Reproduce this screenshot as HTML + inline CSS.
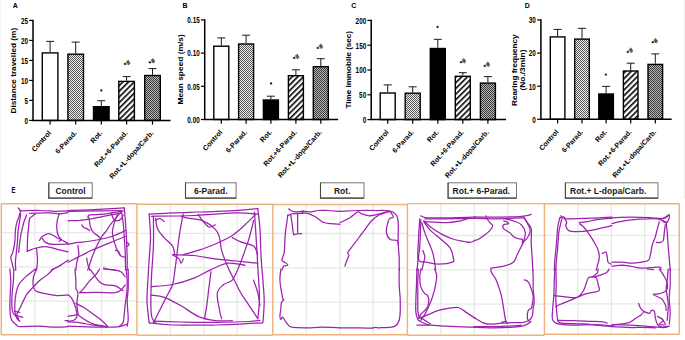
<!DOCTYPE html>
<html><head><meta charset="utf-8"><style>
html,body{margin:0;padding:0;background:#fff;}
svg{display:block;font-family:"Liberation Sans", sans-serif;}
</style></head><body>
<svg width="685" height="340" viewBox="0 0 685 340">
<rect width="685" height="340" fill="#fff"/>
<defs>
<pattern id="dots1" width="2" height="2" patternUnits="userSpaceOnUse"><rect width="2" height="2" fill="#ececec"/><rect width="1" height="1" fill="#5a5a5a"/><rect x="1" y="1" width="1" height="1" fill="#5a5a5a"/></pattern>
<pattern id="dots2" width="2" height="2" patternUnits="userSpaceOnUse"><rect width="2" height="2" fill="#b8b8b8"/><rect width="1" height="1" fill="#383838"/><rect x="1" y="1" width="1" height="1" fill="#383838"/></pattern>
<pattern id="hatch" width="4" height="4" patternUnits="userSpaceOnUse" patternTransform="rotate(45)"><rect width="4" height="4" fill="#fff"/><rect width="1.6" height="4" fill="#000"/></pattern>
</defs>
<text x="12.8" y="7.8" font-size="7" font-weight="bold">A</text>
<rect x="42.3" y="52.9" width="15.6" height="67.5" fill="#ffffff" stroke="#000" stroke-width="1.4"/>
<path d="M50.1 52.2V41.4M46.1 41.4H54.1" stroke="#1a1a1a" stroke-width="1" fill="none"/>
<path d="M50.1 120.4V124.6" stroke="#000" stroke-width="1.2"/>
<text transform="translate(51.5,133.4) rotate(-48)" text-anchor="end" font-size="7.1" font-weight="bold">Control</text>
<rect x="67.9" y="54.2" width="15.6" height="66.2" fill="url(#dots1)" stroke="#000" stroke-width="1.4"/>
<path d="M75.7 53.5V42.1M71.7 42.1H79.7" stroke="#1a1a1a" stroke-width="1" fill="none"/>
<path d="M75.7 120.4V124.6" stroke="#000" stroke-width="1.2"/>
<text transform="translate(77.1,133.4) rotate(-48)" text-anchor="end" font-size="7.1" font-weight="bold">6-Parad.</text>
<rect x="93.5" y="106.7" width="15.6" height="13.7" fill="#000000" stroke="#000" stroke-width="1.4"/>
<path d="M101.3 106V100.7M97.3 100.7H105.3" stroke="#1a1a1a" stroke-width="1" fill="none"/>
<circle cx="101.3" cy="90.5" r="1.15" fill="#222"/>
<path d="M101.3 120.4V124.6" stroke="#000" stroke-width="1.2"/>
<text transform="translate(102.7,133.4) rotate(-48)" text-anchor="end" font-size="7.1" font-weight="bold">Rot.</text>
<rect x="118.8" y="81.4" width="15.6" height="39" fill="url(#hatch)" stroke="#000" stroke-width="1.4"/>
<path d="M126.6 80.7V76.6M122.6 76.6H130.6" stroke="#1a1a1a" stroke-width="1" fill="none"/>
<text transform="translate(127.1,63.3) rotate(-45)" font-size="6.9" font-weight="bold" text-anchor="middle" dominant-baseline="central" stroke="#000" stroke-width="0.05">*#</text>
<path d="M126.6 120.4V124.6" stroke="#000" stroke-width="1.2"/>
<text transform="translate(128,133.4) rotate(-48)" text-anchor="end" font-size="7.1" font-weight="bold">Rot.+6-Parad.</text>
<rect x="144.7" y="75.5" width="15.6" height="44.9" fill="url(#dots2)" stroke="#000" stroke-width="1.4"/>
<path d="M152.5 74.8V68.6M148.5 68.6H156.5" stroke="#1a1a1a" stroke-width="1" fill="none"/>
<text transform="translate(151.9,61.6) rotate(-45)" font-size="6.9" font-weight="bold" text-anchor="middle" dominant-baseline="central" stroke="#000" stroke-width="0.05">*#</text>
<path d="M152.5 120.4V124.6" stroke="#000" stroke-width="1.2"/>
<text transform="translate(153.9,133.4) rotate(-48)" text-anchor="end" font-size="7.1" font-weight="bold">Rot.+L-dopa/Carb.</text>
<path d="M33 19.7V120.4H170.5" stroke="#000" stroke-width="1.5" fill="none"/>
<path d="M29.2 120.4H33" stroke="#000" stroke-width="1.2"/>
<text transform="translate(28,123.7) scale(0.86,1.12)" text-anchor="end" font-size="7.4" font-weight="bold">0</text>
<path d="M29.2 100.4H33" stroke="#000" stroke-width="1.2"/>
<text transform="translate(28,103.7) scale(0.86,1.12)" text-anchor="end" font-size="7.4" font-weight="bold">5</text>
<path d="M29.2 80.4H33" stroke="#000" stroke-width="1.2"/>
<text transform="translate(28,83.7) scale(0.86,1.12)" text-anchor="end" font-size="7.4" font-weight="bold">10</text>
<path d="M29.2 60.4H33" stroke="#000" stroke-width="1.2"/>
<text transform="translate(28,63.7) scale(0.86,1.12)" text-anchor="end" font-size="7.4" font-weight="bold">15</text>
<path d="M29.2 40.4H33" stroke="#000" stroke-width="1.2"/>
<text transform="translate(28,43.7) scale(0.86,1.12)" text-anchor="end" font-size="7.4" font-weight="bold">20</text>
<path d="M29.2 20.4H33" stroke="#000" stroke-width="1.2"/>
<text transform="translate(28,23.7) scale(0.86,1.12)" text-anchor="end" font-size="7.4" font-weight="bold">25</text>
<text transform="translate(13.5,70.65) scale(0.84,1) rotate(-90)" text-anchor="middle" dominant-baseline="central" font-size="8.26" font-weight="bold">Distance travelled (m)</text>
<text x="182.4" y="7.8" font-size="7" font-weight="bold">B</text>
<rect x="213.8" y="46.2" width="15" height="73.3" fill="#ffffff" stroke="#000" stroke-width="1.4"/>
<path d="M221.3 45.5V37.9M217.3 37.9H225.3" stroke="#1a1a1a" stroke-width="1" fill="none"/>
<path d="M221.3 119.5V123.7" stroke="#000" stroke-width="1.2"/>
<text transform="translate(222.7,132.5) rotate(-48)" text-anchor="end" font-size="7.1" font-weight="bold">Control</text>
<rect x="238.6" y="44" width="15" height="75.5" fill="url(#dots1)" stroke="#000" stroke-width="1.4"/>
<path d="M246.1 43.3V35.2M242.1 35.2H250.1" stroke="#1a1a1a" stroke-width="1" fill="none"/>
<path d="M246.1 119.5V123.7" stroke="#000" stroke-width="1.2"/>
<text transform="translate(247.5,132.5) rotate(-48)" text-anchor="end" font-size="7.1" font-weight="bold">6-Parad.</text>
<rect x="263.4" y="100" width="15" height="19.5" fill="#000000" stroke="#000" stroke-width="1.4"/>
<path d="M270.9 99.3V96.2M266.9 96.2H274.9" stroke="#1a1a1a" stroke-width="1" fill="none"/>
<circle cx="271.1" cy="83.5" r="1.15" fill="#222"/>
<path d="M270.9 119.5V123.7" stroke="#000" stroke-width="1.2"/>
<text transform="translate(272.3,132.5) rotate(-48)" text-anchor="end" font-size="7.1" font-weight="bold">Rot.</text>
<rect x="288.4" y="75.7" width="15" height="43.8" fill="url(#hatch)" stroke="#000" stroke-width="1.4"/>
<path d="M295.9 75V69.8M291.9 69.8H299.9" stroke="#1a1a1a" stroke-width="1" fill="none"/>
<text transform="translate(296.1,57.3) rotate(-45)" font-size="6.9" font-weight="bold" text-anchor="middle" dominant-baseline="central" stroke="#000" stroke-width="0.05">*#</text>
<path d="M295.9 119.5V123.7" stroke="#000" stroke-width="1.2"/>
<text transform="translate(297.3,132.5) rotate(-48)" text-anchor="end" font-size="7.1" font-weight="bold">Rot.+6-Parad.</text>
<rect x="313.3" y="66.7" width="15" height="52.8" fill="url(#dots2)" stroke="#000" stroke-width="1.4"/>
<path d="M320.8 66V58.7M316.8 58.7H324.8" stroke="#1a1a1a" stroke-width="1" fill="none"/>
<text transform="translate(319.8,47.2) rotate(-45)" font-size="6.9" font-weight="bold" text-anchor="middle" dominant-baseline="central" stroke="#000" stroke-width="0.05">*#</text>
<path d="M320.8 119.5V123.7" stroke="#000" stroke-width="1.2"/>
<text transform="translate(322.2,132.5) rotate(-48)" text-anchor="end" font-size="7.1" font-weight="bold">Rot.+L-dopa/Carb.</text>
<path d="M204.7 19.2V119.5H338.1" stroke="#000" stroke-width="1.5" fill="none"/>
<path d="M200.9 119.5H204.7" stroke="#000" stroke-width="1.2"/>
<text transform="translate(199.7,122.8) scale(0.86,1.12)" text-anchor="end" font-size="7.4" font-weight="bold">0.00</text>
<path d="M200.9 86.3H204.7" stroke="#000" stroke-width="1.2"/>
<text transform="translate(199.7,89.6) scale(0.86,1.12)" text-anchor="end" font-size="7.4" font-weight="bold">0.05</text>
<path d="M200.9 53.1H204.7" stroke="#000" stroke-width="1.2"/>
<text transform="translate(199.7,56.4) scale(0.86,1.12)" text-anchor="end" font-size="7.4" font-weight="bold">0.10</text>
<path d="M200.9 19.9H204.7" stroke="#000" stroke-width="1.2"/>
<text transform="translate(199.7,23.2) scale(0.86,1.12)" text-anchor="end" font-size="7.4" font-weight="bold">0.15</text>
<text transform="translate(181.1,69.4) scale(0.84,1) rotate(-90)" text-anchor="middle" dominant-baseline="central" font-size="8.4" font-weight="bold">Mean speed (m/s)</text>
<text x="351.3" y="7.8" font-size="7" font-weight="bold">C</text>
<rect x="380.2" y="93" width="15" height="26.6" fill="#ffffff" stroke="#000" stroke-width="1.4"/>
<path d="M387.7 92.3V84.9M383.7 84.9H391.7" stroke="#1a1a1a" stroke-width="1" fill="none"/>
<path d="M387.7 119.6V123.8" stroke="#000" stroke-width="1.2"/>
<text transform="translate(389.1,132.6) rotate(-48)" text-anchor="end" font-size="7.1" font-weight="bold">Control</text>
<rect x="405.2" y="93.2" width="15" height="26.4" fill="url(#dots1)" stroke="#000" stroke-width="1.4"/>
<path d="M412.7 92.5V86.8M408.7 86.8H416.7" stroke="#1a1a1a" stroke-width="1" fill="none"/>
<path d="M412.7 119.6V123.8" stroke="#000" stroke-width="1.2"/>
<text transform="translate(414.1,132.6) rotate(-48)" text-anchor="end" font-size="7.1" font-weight="bold">6-Parad.</text>
<rect x="430.3" y="48.5" width="15" height="71.1" fill="#000000" stroke="#000" stroke-width="1.4"/>
<path d="M437.8 47.8V39.3M433.8 39.3H441.8" stroke="#1a1a1a" stroke-width="1" fill="none"/>
<circle cx="437.6" cy="27.0" r="1.15" fill="#222"/>
<path d="M437.8 119.6V123.8" stroke="#000" stroke-width="1.2"/>
<text transform="translate(439.2,132.6) rotate(-48)" text-anchor="end" font-size="7.1" font-weight="bold">Rot.</text>
<rect x="455.3" y="76.3" width="15" height="43.3" fill="url(#hatch)" stroke="#000" stroke-width="1.4"/>
<path d="M462.8 75.6V72.7M458.8 72.7H466.8" stroke="#1a1a1a" stroke-width="1" fill="none"/>
<text transform="translate(463.0,61.5) rotate(-45)" font-size="6.9" font-weight="bold" text-anchor="middle" dominant-baseline="central" stroke="#000" stroke-width="0.05">*#</text>
<path d="M462.8 119.6V123.8" stroke="#000" stroke-width="1.2"/>
<text transform="translate(464.2,132.6) rotate(-48)" text-anchor="end" font-size="7.1" font-weight="bold">Rot.+6-Parad.</text>
<rect x="480.4" y="83.1" width="15" height="36.5" fill="url(#dots2)" stroke="#000" stroke-width="1.4"/>
<path d="M487.9 82.4V76.6M483.9 76.6H491.9" stroke="#1a1a1a" stroke-width="1" fill="none"/>
<text transform="translate(486.9,65.2) rotate(-45)" font-size="6.9" font-weight="bold" text-anchor="middle" dominant-baseline="central" stroke="#000" stroke-width="0.05">*#</text>
<path d="M487.9 119.6V123.8" stroke="#000" stroke-width="1.2"/>
<text transform="translate(489.3,132.6) rotate(-48)" text-anchor="end" font-size="7.1" font-weight="bold">Rot.+L-dopa/Carb.</text>
<path d="M371.2 19.7V119.6H506" stroke="#000" stroke-width="1.5" fill="none"/>
<path d="M367.4 119.6H371.2" stroke="#000" stroke-width="1.2"/>
<text transform="translate(366.2,122.9) scale(0.86,1.12)" text-anchor="end" font-size="7.4" font-weight="bold">0</text>
<path d="M367.4 94.8H371.2" stroke="#000" stroke-width="1.2"/>
<text transform="translate(366.2,98.1) scale(0.86,1.12)" text-anchor="end" font-size="7.4" font-weight="bold">50</text>
<path d="M367.4 70H371.2" stroke="#000" stroke-width="1.2"/>
<text transform="translate(366.2,73.3) scale(0.86,1.12)" text-anchor="end" font-size="7.4" font-weight="bold">100</text>
<path d="M367.4 45.2H371.2" stroke="#000" stroke-width="1.2"/>
<text transform="translate(366.2,48.5) scale(0.86,1.12)" text-anchor="end" font-size="7.4" font-weight="bold">150</text>
<path d="M367.4 20.4H371.2" stroke="#000" stroke-width="1.2"/>
<text transform="translate(366.2,23.7) scale(0.86,1.12)" text-anchor="end" font-size="7.4" font-weight="bold">200</text>
<text transform="translate(348.5,69.8) scale(0.84,1) rotate(-90)" text-anchor="middle" dominant-baseline="central" font-size="8.1" font-weight="bold">Time immobile (sec)</text>
<text x="524.7" y="7.8" font-size="7" font-weight="bold">D</text>
<rect x="550.3" y="36.9" width="14.6" height="82.4" fill="#ffffff" stroke="#000" stroke-width="1.4"/>
<path d="M557.6 36.2V29.4M553.6 29.4H561.6" stroke="#1a1a1a" stroke-width="1" fill="none"/>
<path d="M557.6 119.3V123.5" stroke="#000" stroke-width="1.2"/>
<text transform="translate(559,132.3) rotate(-48)" text-anchor="end" font-size="7.1" font-weight="bold">Control</text>
<rect x="574.7" y="39.1" width="14.6" height="80.2" fill="url(#dots1)" stroke="#000" stroke-width="1.4"/>
<path d="M582 38.4V28.3M578 28.3H586" stroke="#1a1a1a" stroke-width="1" fill="none"/>
<path d="M582 119.3V123.5" stroke="#000" stroke-width="1.2"/>
<text transform="translate(583.4,132.3) rotate(-48)" text-anchor="end" font-size="7.1" font-weight="bold">6-Parad.</text>
<rect x="598.8" y="94" width="14.6" height="25.3" fill="#000000" stroke="#000" stroke-width="1.4"/>
<path d="M606.1 93.3V86.4M602.1 86.4H610.1" stroke="#1a1a1a" stroke-width="1" fill="none"/>
<circle cx="605.9" cy="74.7" r="1.15" fill="#222"/>
<path d="M606.1 119.3V123.5" stroke="#000" stroke-width="1.2"/>
<text transform="translate(607.5,132.3) rotate(-48)" text-anchor="end" font-size="7.1" font-weight="bold">Rot.</text>
<rect x="623.4" y="71" width="14.6" height="48.3" fill="url(#hatch)" stroke="#000" stroke-width="1.4"/>
<path d="M630.7 70.3V63.2M626.7 63.2H634.7" stroke="#1a1a1a" stroke-width="1" fill="none"/>
<text transform="translate(629.9,51.2) rotate(-45)" font-size="6.9" font-weight="bold" text-anchor="middle" dominant-baseline="central" stroke="#000" stroke-width="0.05">*#</text>
<path d="M630.7 119.3V123.5" stroke="#000" stroke-width="1.2"/>
<text transform="translate(632.1,132.3) rotate(-48)" text-anchor="end" font-size="7.1" font-weight="bold">Rot.+6-Parad.</text>
<rect x="648" y="64.4" width="14.6" height="54.9" fill="url(#dots2)" stroke="#000" stroke-width="1.4"/>
<path d="M655.3 63.7V53.9M651.3 53.9H659.3" stroke="#1a1a1a" stroke-width="1" fill="none"/>
<text transform="translate(654.7,41.5) rotate(-45)" font-size="6.9" font-weight="bold" text-anchor="middle" dominant-baseline="central" stroke="#000" stroke-width="0.05">*#</text>
<path d="M655.3 119.3V123.5" stroke="#000" stroke-width="1.2"/>
<text transform="translate(656.7,132.3) rotate(-48)" text-anchor="end" font-size="7.1" font-weight="bold">Rot.+L-dopa/Carb.</text>
<path d="M540.9 19.25V119.3H671.7" stroke="#000" stroke-width="1.5" fill="none"/>
<path d="M537.1 119.3H540.9" stroke="#000" stroke-width="1.2"/>
<text transform="translate(535.9,122.6) scale(0.86,1.12)" text-anchor="end" font-size="7.4" font-weight="bold">0</text>
<path d="M537.1 86.2H540.9" stroke="#000" stroke-width="1.2"/>
<text transform="translate(535.9,89.5) scale(0.86,1.12)" text-anchor="end" font-size="7.4" font-weight="bold">10</text>
<path d="M537.1 53.1H540.9" stroke="#000" stroke-width="1.2"/>
<text transform="translate(535.9,56.4) scale(0.86,1.12)" text-anchor="end" font-size="7.4" font-weight="bold">20</text>
<path d="M537.1 19.95H540.9" stroke="#000" stroke-width="1.2"/>
<text transform="translate(535.9,23.25) scale(0.86,1.12)" text-anchor="end" font-size="7.4" font-weight="bold">30</text>
<text transform="translate(514.6,70.2) scale(0.84,1) rotate(-90)" text-anchor="middle" dominant-baseline="central" font-size="8.15" font-weight="bold">Rearing frequency</text>
<text transform="translate(523.2,70.05) scale(0.84,1) rotate(-90)" text-anchor="middle" dominant-baseline="central" font-size="8.4" font-weight="bold">(No./3min)</text>
<path d="M684.3 0V199" stroke="#ececec" stroke-width="1"/><path d="M0.5 0V199" stroke="#f5f5f5" stroke-width="1"/>
<text transform="translate(11.6,193.2) scale(0.7,1)" font-size="8.2" font-weight="bold">E</text>
<rect x="48.8" y="182.8" width="43.4" height="15.3" fill="#fff" stroke="#747474" stroke-width="1"/>
<path d="M48.8 182.8V198.1H92.2" stroke="#474747" stroke-width="1.1" fill="none"/>
<text x="70.5" y="193.6" text-anchor="middle" font-size="8.5" font-weight="bold" fill="#1a1a1a">Control</text>
<rect x="185.5" y="182.8" width="50.6" height="15.3" fill="#fff" stroke="#747474" stroke-width="1"/>
<path d="M185.5 182.8V198.1H236.1" stroke="#474747" stroke-width="1.1" fill="none"/>
<text x="210.8" y="193.6" text-anchor="middle" font-size="8.5" font-weight="bold" fill="#1a1a1a">6-Parad.</text>
<rect x="320.5" y="182.8" width="43.5" height="15.3" fill="#fff" stroke="#747474" stroke-width="1"/>
<path d="M320.5 182.8V198.1H364" stroke="#474747" stroke-width="1.1" fill="none"/>
<text x="342.25" y="193.6" text-anchor="middle" font-size="8.5" font-weight="bold" fill="#1a1a1a">Rot.</text>
<rect x="448.1" y="182.8" width="68.4" height="15.3" fill="#fff" stroke="#747474" stroke-width="1"/>
<path d="M448.1 182.8V198.1H516.5" stroke="#474747" stroke-width="1.1" fill="none"/>
<text x="452.6" y="193.6" font-size="8.5" font-weight="bold" fill="#1a1a1a">Rot.+ 6-Parad.</text>
<rect x="565.4" y="182.8" width="92.6" height="15.3" fill="#fff" stroke="#747474" stroke-width="1"/>
<path d="M565.4 182.8V198.1H658" stroke="#474747" stroke-width="1.1" fill="none"/>
<text x="570" y="193.6" font-size="8.5" font-weight="bold" fill="#1a1a1a">Rot.+ L-dopa/Carb.</text>
<path d="M34.8 203.9V334.5M68.3 203.9V334.5M101.6 203.9V334.5M1.3 232.6H136.9M1.3 266.9H136.9M1.3 301.2H136.9" stroke="#e8e8ec" stroke-width="1.3" fill="none"/>
<path d="M170.4 203.9V334.5M203.9 203.9V334.5M237.2 203.9V334.5M136.9 233.4H272.8M136.9 267.7H272.8M136.9 302H272.8" stroke="#e8e8ec" stroke-width="1.3" fill="none"/>
<path d="M306.3 203.9V334.5M339.8 203.9V334.5M373.1 203.9V334.5M272.8 233.5H407.3M272.8 267.8H407.3M272.8 302.1H407.3" stroke="#e8e8ec" stroke-width="1.3" fill="none"/>
<path d="M440.8 203.9V334.5M474.3 203.9V334.5M507.6 203.9V334.5M407.3 235.5H544.4M407.3 269.8H544.4M407.3 304.1H544.4" stroke="#e8e8ec" stroke-width="1.3" fill="none"/>
<path d="M577.9 203.9V334.5M611.4 203.9V334.5M644.7 203.9V334.5M544.4 235.3H679.3M544.4 269.6H679.3M544.4 303.9H679.3" stroke="#e8e8ec" stroke-width="1.3" fill="none"/>
<path d="M1.3 203.8H136.9M1.3 334.7H136.9M136.9 204.3H272.8M136.9 335.3H272.8M272.8 204.5H407.4M272.8 334.7H407.4M407.4 203.6H544.4M407.4 335.3H544.4M544.4 203.8H679.3M544.4 334.2H679.3M1.3 203.8V334.7M136.9 203.8V335.3M272.8 204.3V335.3M407.4 203.6V335.3M544.4 203.6V335.3M679.3 203.8V334.2" stroke="#eeb27a" stroke-width="1.45" fill="none"/>
<g fill="none" stroke="#9c22ae" stroke-width="1.25" stroke-linejoin="round" stroke-linecap="round">
<path d="M18.1 207.9C18.6 208.4 20.4 209.9 20.7 210.9C21.0 211.9 20.1 212.7 19.7 213.8C19.4 215.0 19.2 216.3 18.7 217.8C18.2 219.3 17.3 220.6 16.8 222.7C16.2 224.9 15.7 227.3 15.4 230.6C15.1 233.9 15.2 238.8 14.8 242.4C14.4 246.1 13.5 249.8 12.8 252.3C12.2 254.8 11.0 255.6 10.8 257.2C10.7 258.9 11.3 260.0 11.8 262.2C12.3 264.3 13.5 268.7 13.8 270.1"/>
<path d="M19.7 210.9C23.0 210.8 33.5 210.4 39.4 210.5C45.4 210.6 50.5 211.2 55.2 211.3C60.0 211.3 65.9 211.0 68.0 210.9"/>
<path d="M29.6 213.3C32.9 213.2 44.4 212.8 49.3 212.9C54.2 213.0 56.0 213.9 59.2 213.8C62.3 213.8 66.6 212.7 68.0 212.5"/>
<path d="M20.7 213.8C20.5 215.0 20.2 218.0 19.7 220.8C19.3 223.5 18.5 227.0 18.1 230.6C17.8 234.2 17.7 238.5 17.4 242.4C17.0 246.4 16.5 251.0 16.2 254.3C15.8 257.6 15.5 259.5 15.4 262.2C15.3 264.8 15.7 268.7 15.8 270.1"/>
<path d="M26.6 214.8C26.1 216.1 24.6 219.8 23.7 222.7C22.8 225.7 22.0 229.3 21.3 232.6C20.6 235.9 20.2 239.2 19.7 242.4C19.3 245.7 18.9 250.7 18.7 252.3"/>
<path d="M35.5 213.8C34.8 214.3 32.5 216.0 31.6 216.8C30.6 217.6 30.1 217.1 29.6 218.8C29.1 220.4 28.9 223.4 28.6 226.7C28.3 230.0 27.8 234.4 27.6 238.5C27.4 242.6 27.3 249.2 27.2 251.3"/>
<path d="M27.2 251.3C28.8 250.8 33.1 248.7 36.5 248.0C39.8 247.2 43.6 246.5 47.3 246.8C51.1 247.1 55.7 249.1 59.2 249.9C62.6 250.8 66.6 251.6 68.0 251.9"/>
<path d="M36.5 248.0C36.7 250.0 37.5 256.5 37.5 260.2C37.5 263.9 36.7 268.4 36.5 270.1"/>
<path d="M39.4 240.5C39.9 239.8 40.9 237.7 42.4 236.5C43.9 235.4 46.5 233.7 48.3 233.6C50.1 233.4 51.6 234.7 53.3 235.5C54.9 236.4 56.9 237.8 58.2 238.5C59.5 239.2 59.5 238.7 61.1 239.5C62.8 240.3 66.9 242.8 68.0 243.4"/>
<path d="M42.4 238.5C42.9 239.2 43.7 241.5 45.4 242.4C47.0 243.4 48.5 244.2 52.3 244.4C56.0 244.7 65.4 244.1 68.0 244.0"/>
<path d="M59.2 213.8C58.8 215.0 57.6 218.3 57.2 220.8C56.8 223.2 56.6 226.2 56.8 228.6C57.0 231.1 57.5 233.7 58.2 235.5C58.9 237.4 61.0 238.5 61.1 239.5C61.3 240.5 59.5 241.1 59.2 241.5"/>
<path d="M68.0 260.2C66.6 261.2 62.0 264.5 59.2 266.1C56.4 267.8 52.6 269.4 51.3 270.1"/>
<path d="M68.0 210.5C71.3 210.4 81.1 210.2 87.7 209.9C94.3 209.6 101.4 209.2 107.4 208.9C113.5 208.6 121.4 208.1 124.2 207.9"/>
<path d="M68.0 211.3C72.9 211.2 88.7 211.0 97.6 210.9C106.5 210.8 117.3 210.6 121.3 210.5"/>
<path d="M87.7 217.2C88.1 216.8 87.7 215.3 89.7 214.8C91.7 214.4 95.9 214.8 99.6 214.4C103.2 214.1 108.4 213.3 111.4 212.9C114.4 212.4 115.3 212.2 117.3 211.9C119.3 211.5 122.2 211.1 123.2 210.9"/>
<path d="M68.0 220.8C70.0 220.7 75.9 220.7 79.8 220.4C83.8 220.0 87.7 219.4 91.7 218.8C95.6 218.1 99.9 217.1 103.5 216.4C107.1 215.7 110.4 215.0 113.4 214.4C116.3 213.8 119.9 213.1 121.3 212.9"/>
<path d="M88.7 216.8C88.9 217.8 89.4 220.9 89.7 222.7C90.0 224.5 90.0 226.0 90.7 227.7C91.3 229.3 92.5 231.3 93.6 232.6C94.8 233.9 96.4 234.6 97.6 235.5C98.7 236.5 100.1 238.0 100.5 238.5"/>
<path d="M81.8 224.7C82.1 225.2 83.0 227.0 83.8 227.7C84.6 228.3 85.8 228.1 86.7 228.6C87.7 229.1 89.2 230.3 89.7 230.6"/>
<path d="M121.3 211.9C120.3 213.0 117.1 216.6 115.3 218.8C113.5 220.9 111.9 222.7 110.4 224.7C108.9 226.7 107.8 228.8 106.5 230.6C105.1 232.4 103.7 233.9 102.5 235.5C101.4 237.2 100.7 238.3 99.6 240.5C98.4 242.6 96.9 245.4 95.6 248.4C94.3 251.3 93.0 254.6 91.7 258.2C90.4 261.8 88.4 268.1 87.7 270.1"/>
<path d="M117.3 214.8C116.8 216.1 115.2 219.8 114.4 222.7C113.5 225.7 112.4 229.3 112.4 232.6C112.4 235.9 113.4 239.2 114.4 242.4C115.3 245.7 117.1 250.0 118.3 252.3C119.4 254.6 120.1 255.4 121.3 256.3C122.4 257.1 124.5 257.1 125.2 257.2"/>
<path d="M68.0 244.4C69.6 244.1 74.6 242.9 77.9 242.4C81.1 242.0 84.1 242.0 87.7 241.5C91.3 241.0 95.6 240.3 99.6 239.5C103.5 238.7 107.8 237.7 111.4 236.5C115.0 235.4 119.0 233.6 121.3 232.6C123.6 231.6 124.5 230.9 125.2 230.6"/>
<path d="M68.0 262.2C69.0 261.7 71.6 260.4 73.9 259.2C76.2 258.1 78.8 256.7 81.8 255.3C84.8 253.8 88.1 252.0 91.7 250.3C95.3 248.7 99.6 247.0 103.5 245.4C107.4 243.8 111.7 242.0 115.3 240.5C119.0 239.0 123.6 237.2 125.2 236.5"/>
<path d="M77.9 245.4C78.0 246.9 79.0 251.5 78.8 254.3C78.7 257.1 77.4 259.5 76.9 262.2C76.4 264.8 76.1 268.7 75.9 270.1"/>
<path d="M124.2 207.9C124.4 209.7 124.9 214.7 125.2 218.8C125.5 222.9 125.9 228.0 126.2 232.6C126.4 237.2 126.6 242.1 126.8 246.4C126.9 250.7 127.1 254.3 127.2 258.2C127.2 262.2 127.2 268.1 127.2 270.1"/>
<path d="M121.3 210.9C121.6 212.9 122.7 218.5 123.2 222.7C123.7 227.0 123.9 231.6 124.2 236.5C124.5 241.5 125.0 246.7 125.2 252.3C125.4 257.9 125.5 267.1 125.6 270.1"/>
<path d="M111.4 212.9C111.7 213.8 112.4 217.5 113.4 218.8C114.4 220.1 116.0 220.8 117.3 220.8C118.6 220.8 120.3 219.8 121.3 218.8C122.2 217.8 122.9 215.5 123.2 214.8"/>
<path d="M115.3 250.3C115.8 250.5 117.5 250.5 118.3 251.3C119.1 252.1 119.9 254.6 120.3 255.3"/>
<path d="M86.7 258.2C86.9 259.2 87.2 262.2 87.7 264.1C88.2 266.1 89.4 269.1 89.7 270.1"/>
<path d="M103.5 268.1C104.2 268.3 105.5 268.7 107.4 269.1C109.4 269.4 114.0 269.9 115.3 270.1"/>
<path d="M127.2 242.4C127.5 242.8 129.1 243.8 129.1 244.4C129.1 245.1 127.5 246.1 127.2 246.4"/>
<path d="M9.9 269.0C10.0 271.0 10.8 276.9 10.8 280.8C10.9 284.8 10.4 289.1 10.3 292.7C10.1 296.3 9.9 298.9 9.9 302.5C9.9 306.1 9.9 311.4 10.3 314.4C10.6 317.3 10.7 318.5 11.8 320.3C12.9 322.1 15.5 324.2 16.8 325.2C18.1 326.3 15.9 326.4 19.7 326.6C23.5 326.8 33.5 326.1 39.4 326.2C45.4 326.3 50.5 327.1 55.2 327.2C60.0 327.3 65.9 326.7 68.0 326.6"/>
<path d="M13.8 269.0C13.7 271.0 13.7 276.9 13.4 280.8C13.1 284.8 12.5 288.7 12.2 292.7C12.0 296.6 11.7 301.2 11.8 304.5C11.9 307.8 12.2 310.4 12.8 312.4C13.5 314.4 14.8 315.0 15.8 316.3C16.8 317.7 18.2 319.6 18.7 320.3"/>
<path d="M35.5 269.0C33.9 270.3 28.4 274.3 25.6 276.9C22.8 279.5 20.4 281.8 18.7 284.8C17.1 287.7 16.4 291.4 15.8 294.6C15.1 297.9 14.9 301.2 14.8 304.5C14.7 307.8 14.7 312.1 15.4 314.4C16.0 316.7 18.2 317.7 18.7 318.3"/>
<path d="M53.3 269.0C52.3 270.0 49.6 272.9 47.3 274.9C45.0 276.9 41.7 278.9 39.4 280.8C37.1 282.8 35.7 284.5 33.5 286.8C31.4 289.1 28.8 291.4 26.6 294.6C24.5 297.9 22.4 303.2 20.7 306.5C19.1 309.8 17.4 313.0 16.8 314.4"/>
<path d="M36.5 269.0C36.0 270.3 34.1 274.3 33.5 276.9C33.0 279.5 32.8 282.5 33.1 284.8C33.5 287.1 33.5 289.2 35.5 290.7C37.5 292.2 41.7 292.8 45.4 293.7C49.0 294.5 53.4 295.4 57.2 295.6C61.0 295.9 66.2 295.1 68.0 295.0"/>
<path d="M14.8 311.4L19.7 312.4"/>
<path d="M15.8 315.4L22.7 317.3"/>
<path d="M16.8 318.3L19.7 321.3"/>
<path d="M65.1 320.7L68.0 320.7"/>
<path d="M126.2 269.0C126.3 271.0 127.1 276.9 127.2 280.8C127.3 284.8 127.1 288.7 126.8 292.7C126.4 296.6 125.6 300.9 125.2 304.5C124.8 308.1 124.5 311.4 124.2 314.4C123.9 317.3 124.0 320.2 123.2 322.3C122.4 324.3 119.9 325.9 119.3 326.6"/>
<path d="M128.2 269.0C128.2 272.3 128.3 283.5 128.2 288.7C128.0 294.0 127.2 295.6 127.2 300.6C127.2 305.5 128.2 314.0 128.2 318.3C128.2 322.6 127.3 324.9 127.2 326.2"/>
<path d="M68.0 326.2C71.3 326.3 81.1 326.6 87.7 326.8C94.3 327.0 102.2 327.2 107.4 327.2C112.7 327.2 116.0 327.1 119.3 326.6C122.6 326.1 125.9 324.6 127.2 324.2"/>
<path d="M68.0 294.6C68.7 295.3 70.6 296.3 71.9 298.6C73.3 300.9 75.1 305.5 75.9 308.4C76.7 311.4 77.2 314.4 76.9 316.3C76.5 318.3 75.4 319.5 73.9 320.3C72.4 321.1 69.0 321.1 68.0 321.3"/>
<path d="M74.9 269.0C75.1 271.0 75.7 277.5 75.9 280.8C76.1 284.1 75.6 286.8 75.9 288.7C76.2 290.7 77.7 290.2 77.9 292.7C78.0 295.1 76.9 300.2 76.9 303.5C76.9 306.8 77.4 310.3 77.9 312.4C78.4 314.5 77.2 314.4 79.8 316.3C82.5 318.3 89.0 322.5 93.6 324.2C98.2 325.9 105.1 326.2 107.4 326.6"/>
<path d="M79.8 292.7C82.8 292.6 91.7 292.3 97.6 292.3C103.5 292.3 111.4 293.1 115.3 292.7C119.3 292.2 119.6 291.0 121.3 289.7C122.9 288.4 124.5 285.6 125.2 284.8"/>
<path d="M89.7 269.0C90.2 269.7 91.7 271.6 92.7 272.9C93.6 274.3 94.3 275.2 95.6 276.9C96.9 278.5 98.9 281.5 100.5 282.8C102.2 284.1 103.0 284.3 105.5 284.8C107.9 285.3 112.4 284.8 115.3 285.8C118.3 286.8 121.9 289.9 123.2 290.7"/>
<path d="M99.6 269.0C98.9 270.0 97.3 272.9 95.6 274.9C94.0 276.9 91.3 279.0 89.7 280.8C88.1 282.6 87.1 284.1 85.8 285.8C84.4 287.4 82.8 289.5 81.8 290.7C80.8 291.8 80.2 292.3 79.8 292.7"/>
<path d="M103.5 269.0C105.1 269.2 110.4 269.5 113.4 270.0C116.3 270.5 119.3 270.8 121.3 272.0C123.2 273.1 124.5 276.1 125.2 276.9"/>
<path d="M68.0 316.3C69.0 316.2 72.3 315.7 73.9 315.4C75.6 315.0 77.2 314.5 77.9 314.4"/>
<path d="M75.9 303.5C77.2 304.2 80.8 305.7 83.8 307.5C86.7 309.3 90.7 312.2 93.6 314.4C96.6 316.5 99.2 318.3 101.5 320.3C103.8 322.3 106.5 325.2 107.4 326.2"/>
<path d="M68.0 321.9C69.6 321.9 73.6 321.7 77.9 322.3C82.1 322.8 88.7 324.5 93.6 325.2C98.6 325.9 105.1 326.4 107.4 326.6"/>
</g>
<g fill="none" stroke="#9c22ae" stroke-width="1.25" stroke-linejoin="round" stroke-linecap="round">
<path d="M149.2 214.2C153.1 214.0 164.4 213.3 172.6 212.9C180.8 212.5 189.7 212.3 198.2 212.0C206.7 211.8 215.9 211.5 223.7 211.2C231.5 210.8 239.4 210.3 245.0 209.9C250.7 209.5 255.7 208.8 257.8 208.6"/>
<path d="M151.3 216.3C158.4 216.2 179.7 216.0 193.9 215.5C208.1 214.9 225.9 213.1 236.5 212.9C247.2 212.7 254.3 214.0 257.8 214.2"/>
<path d="M149.2 214.2C149.4 218.1 150.5 230.2 150.5 237.6C150.5 245.1 149.6 251.8 149.2 258.9C148.7 266.0 148.3 273.1 147.9 280.2C147.5 287.3 146.8 294.4 147.0 301.5C147.3 308.6 148.8 319.3 149.2 322.8"/>
<path d="M153.4 216.3C153.4 221.3 153.8 235.5 153.4 246.1C153.1 256.8 151.7 268.9 151.3 280.2C150.9 291.6 150.6 307.2 151.3 314.3C152.0 321.4 154.9 321.4 155.6 322.8"/>
<path d="M149.2 322.8C153.1 323.2 161.6 324.6 172.6 325.0C183.6 325.3 203.9 325.1 215.2 325.0C226.6 324.8 233.0 324.5 240.8 324.1C248.6 323.7 258.5 323.0 262.1 322.8"/>
<path d="M153.4 321.1C158.0 321.3 170.8 321.8 181.1 322.0C191.4 322.2 203.9 322.5 215.2 322.4C226.6 322.3 241.8 321.9 249.3 321.5C256.8 321.2 258.2 320.5 260.0 320.3"/>
<path d="M257.8 208.6C258.2 212.0 259.4 220.7 260.0 229.1C260.5 237.5 260.7 250.4 261.2 258.9C261.7 267.4 262.4 273.1 262.9 280.2C263.4 287.3 264.2 294.4 264.2 301.5C264.2 308.6 263.1 319.3 262.9 322.8"/>
<path d="M254.4 212.0C254.7 216.3 255.6 228.4 256.1 237.6C256.7 246.8 257.3 257.5 257.8 267.4C258.4 277.4 259.5 288.7 259.5 297.3C259.5 305.8 258.1 315.0 257.8 318.6"/>
<path d="M155.6 218.4C155.9 220.2 156.3 225.9 157.7 229.1C159.1 232.3 161.6 234.8 164.1 237.6C166.6 240.4 170.8 243.3 172.6 246.1C174.4 249.0 174.4 253.2 174.7 254.7"/>
<path d="M172.6 254.7C176.2 254.8 186.8 254.8 193.9 255.5C201.0 256.2 208.1 258.0 215.2 258.9C222.3 259.8 229.4 260.3 236.5 261.0C243.6 261.8 254.3 262.8 257.8 263.2"/>
<path d="M183.3 214.2C182.9 215.9 181.8 220.9 181.1 224.8C180.4 228.7 179.7 232.6 179.0 237.6C178.3 242.6 177.6 249.0 176.9 254.7C176.2 260.3 175.4 266.7 174.7 271.7C174.0 276.7 174.0 280.2 172.6 284.5C171.2 288.7 168.3 293.0 166.2 297.3C164.1 301.5 162.0 305.8 159.8 310.0C157.7 314.3 154.5 320.7 153.4 322.8"/>
<path d="M181.1 216.3C182.5 216.7 186.1 217.7 189.7 218.4C193.2 219.1 198.2 218.8 202.4 220.6C206.7 222.3 212.4 226.2 215.2 229.1C218.1 231.9 218.4 234.1 219.5 237.6C220.5 241.2 220.2 245.4 221.6 250.4C223.0 255.4 225.9 262.5 228.0 267.4C230.1 272.4 232.3 276.0 234.4 280.2C236.5 284.5 238.3 288.7 240.8 293.0C243.3 297.3 246.5 301.5 249.3 305.8C252.1 310.0 256.4 316.4 257.8 318.6"/>
<path d="M255.7 214.2C253.9 215.9 248.9 221.3 245.0 224.8C241.1 228.4 237.2 232.3 232.3 235.5C227.3 238.7 220.9 241.5 215.2 244.0C209.5 246.5 203.5 248.6 198.2 250.4C192.8 252.2 185.7 253.9 183.3 254.7"/>
<path d="M253.6 220.6C252.9 223.4 250.7 232.6 249.3 237.6C247.9 242.6 246.8 245.4 245.0 250.4C243.3 255.4 240.8 262.5 238.6 267.4C236.5 272.4 234.7 277.4 232.3 280.2C229.8 283.1 226.2 282.3 223.7 284.5C221.3 286.6 218.1 288.7 217.3 293.0C216.6 297.3 218.8 305.8 219.5 310.0C220.2 314.3 221.3 317.1 221.6 318.6"/>
<path d="M151.3 286.6C154.9 286.3 165.5 285.9 172.6 284.5C179.7 283.1 187.5 280.6 193.9 278.1C200.3 275.6 205.3 272.0 211.0 269.6C216.6 267.1 222.3 263.9 228.0 263.2C233.7 262.5 242.2 264.9 245.0 265.3"/>
<path d="M151.3 295.1C153.4 295.5 159.1 295.5 164.1 297.3C169.1 299.0 175.4 302.6 181.1 305.8C186.8 309.0 192.5 313.9 198.2 316.4C203.9 318.9 209.5 320.0 215.2 320.7C220.9 321.4 229.4 320.7 232.3 320.7"/>
<path d="M211.0 271.7C210.6 274.5 209.5 283.1 208.8 288.7C208.1 294.4 207.4 300.8 206.7 305.8C206.0 310.8 204.9 316.4 204.6 318.6"/>
<path d="M253.6 280.2C254.3 282.3 256.8 288.7 257.8 293.0C258.9 297.3 259.6 303.6 260.0 305.8"/>
<path d="M232.3 237.6C233.7 238.3 237.2 240.4 240.8 241.9C244.3 243.3 250.7 244.0 253.6 246.1C256.4 248.3 257.1 253.2 257.8 254.7"/>
<path d="M198.2 214.2C198.9 215.2 200.7 218.4 202.4 220.6C204.2 222.7 206.7 226.2 208.8 227.0C211.0 227.7 214.1 225.2 215.2 224.8"/>
<path d="M172.6 254.7C173.7 255.4 177.6 257.5 179.0 258.9C180.4 260.3 180.4 263.2 181.1 263.2C181.8 263.2 182.9 259.6 183.3 258.9"/>
<path d="M155.6 220.6C156.3 220.2 158.4 218.3 159.8 218.4C161.2 218.6 163.4 220.9 164.1 221.4"/>
</g>
<g fill="none" stroke="#9c22ae" stroke-width="1.25" stroke-linejoin="round" stroke-linecap="round">
<path d="M288.8 208.9C289.3 209.2 290.6 210.4 291.7 210.9C292.9 211.4 293.7 211.8 295.7 211.9C297.6 211.9 300.9 211.3 303.6 211.3C306.2 211.3 309.0 212.0 311.4 211.9C313.9 211.7 315.7 210.7 318.4 210.5C321.0 210.3 323.6 210.4 327.2 210.5C330.8 210.6 337.9 211.2 340.0 211.3"/>
<path d="M287.8 215.8C288.4 215.5 289.4 214.3 291.7 213.8C294.0 213.4 299.0 213.4 301.6 213.3C304.2 213.2 305.2 212.7 307.5 213.3C309.8 213.8 312.8 215.3 315.4 216.8C318.0 218.3 320.7 221.2 323.3 222.3C325.9 223.5 328.4 223.4 331.2 223.7C334.0 224.0 338.6 224.2 340.0 224.3"/>
<path d="M287.8 214.8C287.6 216.1 287.2 219.8 286.8 222.7C286.4 225.7 285.7 229.3 285.4 232.6C285.1 235.9 285.0 239.2 284.8 242.4C284.6 245.7 284.7 249.4 284.2 252.3C283.7 255.3 281.8 258.6 281.9 260.2C282.0 261.8 283.8 261.3 284.8 262.2C285.8 263.0 287.9 264.5 287.8 265.1C287.6 265.8 284.8 265.3 283.8 266.1C282.8 266.9 282.2 269.4 281.9 270.1"/>
<path d="M290.7 214.8C290.9 215.8 291.4 218.5 291.7 220.8C292.1 223.1 292.4 226.3 292.7 228.6C293.0 230.9 293.2 233.6 293.7 234.6C294.2 235.5 294.4 234.3 295.7 234.2C297.0 234.0 300.6 233.7 301.6 233.6"/>
<path d="M297.6 213.8C297.6 215.3 297.6 219.6 297.6 222.7C297.6 225.8 297.6 230.9 297.6 232.6"/>
<path d="M301.6 210.9C301.8 211.2 302.2 212.9 302.6 212.9C302.9 212.9 303.4 211.2 303.6 210.9"/>
<path d="M340.0 211.3C343.0 211.2 351.8 210.6 357.8 210.5C363.7 210.4 370.2 210.4 375.5 210.5C380.8 210.6 385.9 210.2 389.3 210.9C392.8 211.6 394.7 212.9 396.2 214.8C397.7 216.8 397.9 218.1 398.2 222.7C398.5 227.3 398.0 236.5 398.2 242.4C398.3 248.4 399.0 253.6 399.2 258.2C399.3 262.8 399.2 268.1 399.2 270.1"/>
<path d="M340.0 222.7C341.6 221.9 346.9 219.6 349.9 217.8C352.8 216.0 355.8 212.5 357.8 211.9C359.7 211.2 359.7 213.2 361.7 213.8C363.7 214.5 366.6 215.8 369.6 215.8C372.5 215.8 376.2 214.6 379.4 213.8C382.7 213.1 387.7 211.7 389.3 211.3"/>
<path d="M389.3 211.3C387.7 211.9 382.4 213.3 379.4 214.8C376.5 216.4 373.9 218.5 371.6 220.8C369.3 223.1 367.6 226.0 365.6 228.6C363.7 231.3 361.7 233.9 359.7 236.5C357.8 239.2 355.8 241.8 353.8 244.4C351.8 247.0 348.7 250.5 347.9 252.3C347.1 254.1 349.0 254.0 348.9 255.3C348.7 256.6 347.6 258.4 346.9 260.2C346.2 262.0 345.3 265.1 344.9 266.1"/>
<path d="M390.3 211.9C390.8 212.7 393.4 215.7 393.3 216.8C393.1 218.0 390.3 217.5 389.3 218.8C388.3 220.1 387.8 222.4 387.3 224.7C386.8 227.0 385.9 230.1 386.4 232.6C386.8 235.1 388.5 238.2 390.3 239.5C392.1 240.8 395.9 239.7 397.2 240.5C398.5 241.3 398.0 243.8 398.2 244.4"/>
<path d="M280.9 269.0C280.7 270.6 279.9 275.6 279.9 278.9C279.9 282.1 280.4 285.4 280.9 288.7C281.4 292.0 282.4 296.8 282.8 298.6C283.3 300.4 284.1 298.9 283.8 299.6C283.6 300.2 282.0 301.1 281.5 302.5C281.0 304.0 281.1 306.1 280.9 308.4C280.6 310.7 279.9 314.5 279.9 316.3C279.9 318.1 280.4 319.1 280.9 319.3C281.4 319.5 281.9 316.7 282.8 317.3C283.8 318.0 285.3 321.6 286.8 323.2C288.3 324.9 288.3 326.4 291.7 327.2C295.2 327.9 302.6 327.8 307.5 327.8C312.4 327.8 315.9 327.2 321.3 327.2C326.7 327.2 336.9 327.7 340.0 327.8"/>
<path d="M399.2 269.0C399.2 271.6 399.0 279.8 399.2 284.8C399.3 289.7 400.0 294.0 400.2 298.6C400.3 303.2 400.3 308.8 400.2 312.4C400.0 316.0 399.8 318.1 399.2 320.3C398.5 322.4 397.5 324.1 396.2 325.2C394.9 326.4 394.1 326.8 391.3 327.2C388.5 327.6 382.1 327.7 379.4 327.8C376.8 327.8 376.8 327.3 375.5 327.4C374.2 327.4 374.2 328.1 371.6 328.2C368.9 328.2 365.0 327.8 359.7 327.8C354.5 327.7 343.3 327.8 340.0 327.8"/>
</g>
<g fill="none" stroke="#9c22ae" stroke-width="1.25" stroke-linejoin="round" stroke-linecap="round">
<path d="M420.8 215.8C421.8 216.1 422.5 217.5 426.7 217.8C431.0 218.1 438.4 217.9 446.4 217.8C454.5 217.7 470.3 217.3 475.0 217.2"/>
<path d="M424.8 218.8C428.4 218.8 438.1 218.8 446.4 218.8C454.8 218.7 470.3 218.5 475.0 218.4"/>
<path d="M424.8 221.7C428.4 221.9 440.5 222.9 446.4 222.7C452.4 222.6 456.3 221.6 460.3 220.8C464.2 219.9 468.5 218.3 470.1 217.8"/>
<path d="M423.8 220.8C425.2 222.1 429.5 226.3 432.6 228.6C435.8 230.9 438.9 232.8 442.5 234.6C446.1 236.4 450.7 238.3 454.3 239.5C458.0 240.6 461.6 241.0 464.2 241.5C466.8 242.0 468.3 242.6 470.1 242.4C471.9 242.3 474.2 240.8 475.0 240.5"/>
<path d="M419.8 218.8C419.7 221.1 419.1 228.6 418.8 232.6C418.6 236.5 418.6 239.2 418.4 242.4C418.3 245.7 417.9 249.0 417.8 252.3C417.7 255.6 418.0 259.2 417.8 262.2C417.7 265.1 417.0 268.7 416.9 270.1"/>
<path d="M420.8 219.8C420.7 221.9 420.6 228.1 420.4 232.6C420.2 237.0 420.1 241.8 419.8 246.4C419.6 251.0 417.7 257.6 418.8 260.2C420.0 262.8 423.4 261.5 426.7 262.2C430.0 262.8 434.3 264.1 438.6 264.1C442.8 264.1 449.9 263.2 452.4 262.2C454.8 261.2 453.7 260.5 453.4 258.2C453.0 255.9 452.2 251.3 450.4 248.4C448.6 245.4 445.8 243.4 442.5 240.5C439.2 237.5 433.8 233.7 430.7 230.6C427.5 227.5 424.9 223.2 423.8 221.7"/>
<path d="M421.8 222.7C422.3 224.4 423.6 229.3 424.8 232.6C425.9 235.9 427.4 239.2 428.7 242.4C430.0 245.7 431.7 249.0 432.6 252.3C433.6 255.6 434.1 259.2 434.6 262.2C435.1 265.1 435.4 268.7 435.6 270.1"/>
<path d="M422.8 250.3C423.1 251.3 424.6 254.3 424.8 256.3C424.9 258.2 424.3 259.9 423.8 262.2C423.3 264.5 422.1 268.7 421.8 270.1"/>
<path d="M474.0 216.8C477.3 216.9 487.1 217.2 493.7 217.2C500.3 217.2 508.2 217.0 513.4 216.8C518.7 216.6 522.3 216.2 525.3 215.8C528.2 215.4 530.2 214.7 531.2 214.4"/>
<path d="M474.0 218.4C477.3 218.5 485.5 218.9 493.7 218.8C501.9 218.7 518.4 218.0 523.3 217.8"/>
<path d="M485.8 215.8C486.2 216.5 487.1 218.6 487.8 219.8C488.5 220.9 489.0 221.7 489.8 222.7C490.6 223.7 492.7 224.4 492.7 225.7C492.7 227.0 491.3 229.0 489.8 230.6C488.3 232.3 485.8 234.1 483.9 235.5C481.9 237.0 479.6 238.7 477.9 239.5C476.3 240.3 474.7 240.3 474.0 240.5"/>
<path d="M503.6 220.8C504.1 220.9 505.7 221.2 506.5 221.7C507.4 222.2 509.0 223.2 508.5 223.7C508.0 224.2 504.4 223.9 503.6 224.7C502.8 225.5 502.6 227.3 503.6 228.6C504.6 230.0 507.9 231.3 509.5 232.6C511.1 233.9 512.1 235.5 513.4 236.5C514.8 237.5 515.9 238.0 517.4 238.5C518.9 239.0 521.5 238.5 522.3 239.5C523.1 240.5 522.3 243.6 522.3 244.4"/>
<path d="M505.6 218.8C506.9 219.1 510.8 219.8 513.4 220.8C516.1 221.7 519.4 222.7 521.3 224.7C523.3 226.7 525.0 229.6 525.3 232.6C525.6 235.5 524.0 240.1 523.3 242.4C522.7 244.7 522.3 244.4 521.3 246.4C520.4 248.4 518.7 251.7 517.4 254.3C516.1 256.9 515.7 260.2 513.4 262.2C511.1 264.1 507.4 265.1 503.6 266.1C499.8 267.1 492.9 267.8 490.8 268.1"/>
<path d="M523.3 216.8C524.0 217.8 525.9 220.8 527.3 222.7C528.6 224.7 530.5 225.4 531.2 228.6C531.9 231.9 531.0 237.5 531.2 242.4C531.4 247.4 531.9 253.6 532.2 258.2C532.4 262.8 532.7 268.1 532.8 270.1"/>
<path d="M524.3 217.8C525.0 218.9 527.3 222.6 528.2 224.7C529.2 226.8 530.2 228.6 530.2 230.6C530.2 232.6 529.4 234.6 528.2 236.5C527.1 238.5 524.1 241.5 523.3 242.4"/>
<path d="M416.9 269.0C416.8 271.6 416.6 279.8 416.5 284.8C416.3 289.7 416.0 294.0 415.9 298.6C415.8 303.2 415.5 308.9 415.9 312.4C416.2 315.8 416.9 317.7 417.8 319.3C418.8 320.9 420.0 321.3 421.8 322.3C423.6 323.2 427.5 324.7 428.7 325.2"/>
<path d="M418.4 269.0C418.3 271.0 417.9 275.9 417.8 280.8C417.7 285.8 417.8 293.7 417.8 298.6C417.8 303.5 417.7 307.5 417.8 310.4C418.0 313.4 418.7 315.4 418.8 316.3"/>
<path d="M420.8 269.0C420.6 270.3 419.8 273.9 419.8 276.9C419.8 279.8 420.0 284.0 420.8 286.8C421.6 289.5 423.6 292.2 424.8 293.7C425.9 295.1 427.1 294.1 427.7 295.6C428.4 297.1 428.9 300.4 428.7 302.5C428.5 304.7 428.0 306.5 426.7 308.4C425.4 310.4 422.1 312.7 420.8 314.4C419.5 316.0 419.2 317.7 418.8 318.3"/>
<path d="M434.6 269.0C434.9 270.0 436.4 272.3 436.6 274.9C436.8 277.5 436.3 281.2 435.6 284.8C434.9 288.4 433.8 293.0 432.6 296.6C431.5 300.2 430.0 303.5 428.7 306.5C427.4 309.4 426.1 312.1 424.8 314.4C423.4 316.7 421.5 319.3 420.8 320.3"/>
<path d="M418.8 318.3C420.5 317.7 425.4 315.7 428.7 314.4C432.0 313.0 435.3 311.4 438.6 310.4C441.8 309.4 445.1 308.9 448.4 308.4C451.7 308.0 455.3 306.8 458.3 307.5C461.2 308.1 463.4 310.6 466.2 312.4C469.0 314.2 473.6 317.3 475.0 318.3"/>
<path d="M416.9 325.2C419.2 325.2 425.7 325.0 430.7 325.2C435.6 325.4 441.2 325.9 446.4 326.2C451.7 326.5 457.5 326.6 462.2 326.8C467.0 327.0 472.9 327.1 475.0 327.2"/>
<path d="M418.8 316.3C419.8 317.0 422.8 319.0 424.8 320.3C426.7 321.6 429.7 323.6 430.7 324.2"/>
<path d="M490.8 269.0C490.9 269.7 490.9 271.3 491.8 272.9C492.6 274.6 494.5 276.6 495.7 278.9C496.8 281.2 497.7 283.8 498.7 286.8C499.6 289.7 500.8 293.0 501.6 296.6C502.4 300.2 502.9 304.5 503.6 308.4C504.2 312.4 505.1 318.0 505.6 320.3C506.1 322.6 506.4 321.9 506.5 322.3"/>
<path d="M474.0 317.3C475.3 318.1 479.3 321.1 481.9 322.3C484.5 323.4 486.5 324.1 489.8 324.2C493.1 324.4 497.7 323.5 501.6 323.2C505.6 323.0 509.8 322.8 513.4 322.6C517.1 322.5 520.7 322.6 523.3 322.3C525.9 321.9 527.7 321.3 529.2 320.3C530.7 319.3 531.5 318.3 532.2 316.3C532.8 314.4 532.8 311.1 533.2 308.4C533.5 305.8 534.2 303.8 534.2 300.6C534.2 297.3 533.3 292.3 533.2 288.7C533.0 285.1 533.2 282.1 533.2 278.9C533.1 275.6 532.8 270.6 532.8 269.0"/>
<path d="M474.0 327.2C477.3 327.3 487.1 327.8 493.7 327.8C500.3 327.8 508.2 327.6 513.4 327.2C518.7 326.8 522.3 326.2 525.3 325.2C528.2 324.2 530.2 321.9 531.2 321.3"/>
<path d="M524.3 279.8C525.0 280.2 527.1 280.3 528.2 281.8C529.4 283.3 530.4 286.3 531.2 288.7C532.0 291.2 533.0 294.0 533.2 296.6C533.3 299.2 532.5 302.5 532.2 304.5C531.9 306.5 531.9 307.5 531.2 308.4C530.5 309.4 528.9 308.8 528.2 310.4C527.6 312.1 527.1 316.5 527.3 318.3C527.4 320.1 528.9 320.8 529.2 321.3"/>
<path d="M474.0 326.6C476.6 326.6 484.2 326.7 489.8 326.6C495.4 326.5 502.3 326.4 507.5 326.2C512.8 326.0 519.0 325.4 521.3 325.2"/>
<path d="M501.6 322.3C502.3 322.1 504.6 321.1 505.6 321.3C506.5 321.4 507.2 322.9 507.5 323.2"/>
</g>
<g fill="none" stroke="#9c22ae" stroke-width="1.25" stroke-linejoin="round" stroke-linecap="round">
<path d="M559.8 217.8C560.4 217.6 562.6 216.6 563.7 216.8C564.9 217.0 563.4 218.5 566.7 218.8C570.0 219.0 578.0 218.5 583.4 218.4C588.9 218.2 594.5 218.0 599.2 217.8C604.0 217.6 609.9 217.3 612.0 217.2"/>
<path d="M560.8 215.8C561.1 216.1 562.1 217.3 562.7 217.8C563.4 218.3 564.1 218.0 564.7 218.8C565.4 219.6 566.5 221.6 566.7 222.7C566.8 223.9 565.4 224.4 565.7 225.7C566.0 227.0 566.7 229.6 568.7 230.6C570.6 231.6 574.1 231.6 577.5 231.6C581.0 231.6 585.1 231.3 589.4 230.6C593.6 230.0 599.4 228.5 603.2 227.7C607.0 226.8 610.6 226.0 612.0 225.7"/>
<path d="M579.5 222.7C580.8 222.6 584.8 222.2 587.4 221.7C590.0 221.2 592.7 220.3 595.3 219.8C597.9 219.3 600.4 219.0 603.2 218.8C606.0 218.5 610.6 218.5 612.0 218.4"/>
<path d="M579.5 223.7C580.2 224.2 581.8 224.9 583.4 226.7C585.1 228.5 587.6 231.9 589.4 234.6C591.2 237.2 592.8 239.8 594.3 242.4C595.8 245.1 597.4 247.7 598.2 250.3C599.1 253.0 599.4 255.6 599.2 258.2C599.1 260.9 597.7 264.1 597.3 266.1C596.8 268.1 596.4 269.4 596.3 270.1"/>
<path d="M559.8 217.8C559.5 219.3 558.3 223.2 557.8 226.7C557.3 230.1 557.1 234.6 556.8 238.5C556.5 242.4 556.2 246.7 555.8 250.3C555.5 254.0 555.1 256.9 554.8 260.2C554.6 263.5 554.4 268.4 554.3 270.1"/>
<path d="M561.8 218.8C561.3 221.1 559.5 228.0 558.8 232.6C558.1 237.2 558.2 241.5 557.8 246.4C557.4 251.3 556.6 258.2 556.2 262.2C555.9 266.1 555.9 268.7 555.8 270.1"/>
<path d="M602.2 253.3C602.8 253.1 605.3 251.8 606.1 252.3C607.0 252.8 606.8 254.6 607.1 256.3C607.4 257.9 607.4 260.9 608.1 262.2C608.8 263.5 610.6 263.8 611.1 264.1"/>
<path d="M612.0 217.8C615.3 217.7 625.1 217.2 631.7 217.2C638.3 217.2 646.8 217.6 651.4 217.8C656.0 218.0 657.0 218.4 659.3 218.4C661.6 218.4 663.6 218.4 665.3 217.8C666.9 217.2 668.5 215.3 669.2 214.8"/>
<path d="M612.0 223.7C613.3 223.4 616.6 222.4 619.9 221.7C623.2 221.1 627.1 220.3 631.7 219.8C636.3 219.3 643.2 218.9 647.5 218.8C651.8 218.6 654.7 218.5 657.4 218.8C660.0 219.1 661.6 220.1 663.3 220.8C664.9 221.4 666.6 222.4 667.2 222.7"/>
<path d="M663.3 218.8C664.3 218.1 668.4 214.5 669.2 214.8C670.0 215.2 668.9 219.4 668.2 220.8C667.6 222.1 666.4 222.9 665.3 222.7C664.1 222.6 662.0 220.3 661.3 219.8"/>
<path d="M659.3 221.7C659.0 222.9 658.0 226.2 657.4 228.6C656.7 231.1 656.2 233.9 655.4 236.5C654.6 239.2 653.3 241.5 652.4 244.4C651.6 247.4 651.1 251.7 650.5 254.3C649.8 256.9 650.0 258.9 648.5 260.2C647.0 261.5 644.4 261.7 641.6 262.2C638.8 262.7 635.0 263.2 631.7 263.2C628.4 263.2 625.1 262.3 621.9 262.2C618.6 262.0 613.6 262.2 612.0 262.2"/>
<path d="M666.2 222.7C666.4 224.4 666.9 228.6 667.2 232.6C667.6 236.5 667.9 242.1 668.2 246.4C668.5 250.7 668.9 254.3 669.2 258.2C669.5 262.2 670.0 268.1 670.2 270.1"/>
<path d="M665.3 224.7C665.1 226.0 664.6 230.0 664.3 232.6C663.9 235.2 663.9 238.8 663.3 240.5C662.6 242.1 661.5 242.1 660.3 242.4C659.2 242.8 657.0 242.4 656.4 242.4"/>
<path d="M612.0 266.1C613.6 266.0 618.6 265.1 621.9 265.1C625.1 265.2 628.4 266.0 631.7 266.5C635.0 267.0 637.0 268.0 641.6 268.1C646.2 268.2 656.2 266.8 659.3 267.1C662.5 267.4 660.2 269.6 660.3 270.1"/>
<path d="M554.8 269.0C554.7 271.0 554.4 276.6 554.3 280.8C554.1 285.1 554.1 290.4 553.9 294.6C553.6 298.9 553.1 302.5 552.9 306.5C552.6 310.4 552.0 315.7 552.3 318.3C552.6 320.9 553.6 321.3 554.8 322.3C556.1 323.2 556.7 323.7 559.8 324.2C562.9 324.7 568.0 325.1 573.6 325.2C579.2 325.3 586.9 324.5 593.3 324.6C599.7 324.7 608.9 325.6 612.0 325.8"/>
<path d="M555.8 269.0C555.9 271.6 556.2 279.8 556.2 284.8C556.2 289.7 555.7 294.0 555.8 298.6C555.9 303.2 556.5 308.8 556.8 312.4C557.1 316.0 557.0 318.5 557.8 320.3C558.6 322.1 557.5 322.6 561.8 323.2C566.0 323.8 575.1 323.3 583.4 323.8C591.8 324.4 607.3 326.1 612.0 326.6"/>
<path d="M553.9 295.6C555.5 295.8 560.1 296.3 563.7 296.6C567.3 296.9 572.3 297.9 575.6 297.6C578.8 297.3 580.8 295.5 583.4 294.6C586.1 293.8 588.7 293.3 591.3 292.7C594.0 292.0 598.1 292.0 599.2 290.7C600.4 289.4 598.7 286.9 598.2 284.8C597.7 282.6 597.3 279.2 596.3 277.9C595.3 276.6 593.6 276.9 592.3 276.9C591.0 276.9 589.4 276.9 588.4 277.9C587.4 278.9 587.2 280.7 586.4 282.8C585.6 284.9 584.8 288.4 583.4 290.7C582.1 293.0 580.8 295.0 578.5 296.6C576.2 298.3 572.8 299.2 569.6 300.6C566.5 301.9 562.1 303.5 559.8 304.5C557.5 305.5 556.5 306.1 555.8 306.5"/>
<path d="M592.3 276.9C593.1 276.2 596.3 274.3 597.3 272.9C598.2 271.6 598.1 269.7 598.2 269.0"/>
<path d="M594.3 276.9C595.4 276.6 599.1 275.7 601.2 274.9C603.3 274.1 605.8 272.9 607.1 272.0C608.4 271.0 608.8 269.5 609.1 269.0"/>
<path d="M557.8 320.3C560.4 320.3 568.3 320.5 573.6 320.7C578.8 320.8 584.4 321.1 589.4 321.3C594.3 321.5 600.2 321.5 603.2 321.9C606.1 322.2 606.5 323.0 607.1 323.2"/>
<path d="M670.2 269.0C670.2 271.6 670.3 279.8 670.2 284.8C670.0 289.7 669.2 294.0 669.2 298.6C669.2 303.2 670.2 308.1 670.2 312.4C670.2 316.7 669.4 322.3 669.2 324.2"/>
<path d="M668.2 269.0C668.0 271.0 667.6 277.5 667.2 280.8C666.9 284.1 666.1 284.8 666.2 288.7C666.4 292.7 668.0 299.2 668.2 304.5C668.4 309.8 667.4 317.7 667.2 320.3"/>
<path d="M659.3 269.0C660.0 270.0 662.0 272.6 663.3 274.9C664.6 277.2 666.7 280.2 667.2 282.8C667.7 285.4 667.6 288.9 666.2 290.7C664.9 292.5 661.5 293.0 659.3 293.7C657.2 294.3 653.1 293.8 653.4 294.6C653.7 295.5 659.3 296.9 661.3 298.6C663.3 300.2 664.4 302.5 665.3 304.5C666.1 306.5 666.1 309.4 666.2 310.4"/>
<path d="M638.6 303.5C639.0 304.3 639.8 307.1 640.6 308.4C641.4 309.8 643.4 310.4 643.6 311.4C643.7 312.4 642.9 313.2 641.6 314.4C640.3 315.5 637.6 317.0 635.7 318.3C633.7 319.6 632.4 321.3 629.8 322.3C627.1 323.2 622.8 323.7 619.9 324.2C616.9 324.7 613.3 325.0 612.0 325.2"/>
<path d="M643.6 311.4C644.5 311.7 648.2 313.5 649.5 313.4C650.8 313.2 650.6 310.7 651.4 310.4C652.3 310.1 653.7 310.1 654.4 311.4C655.1 312.7 654.9 316.2 655.4 318.3C655.9 320.4 656.4 322.7 657.4 324.2C658.4 325.7 659.7 326.9 661.3 327.2C663.0 327.5 666.2 326.4 667.2 326.2"/>
<path d="M612.0 324.6C615.3 324.7 625.1 324.9 631.7 325.2C638.3 325.5 646.2 326.2 651.4 326.6C656.7 327.0 660.3 327.6 663.3 327.6C666.2 327.5 668.2 326.4 669.2 326.2"/>
<path d="M612.0 326.6C615.3 326.8 626.8 327.4 631.7 327.6C636.7 327.7 637.6 327.3 641.6 327.4C645.5 327.4 653.1 327.7 655.4 327.8"/>
<path d="M657.4 316.3C658.4 317.0 663.0 319.0 663.3 320.3C663.6 321.6 659.0 323.6 659.3 324.2C659.7 324.9 664.9 325.2 665.3 324.2C665.6 323.2 662.0 319.3 661.3 318.3"/>
<path d="M647.5 269.0L653.4 269.6"/>
</g>
</svg>
</body></html>
